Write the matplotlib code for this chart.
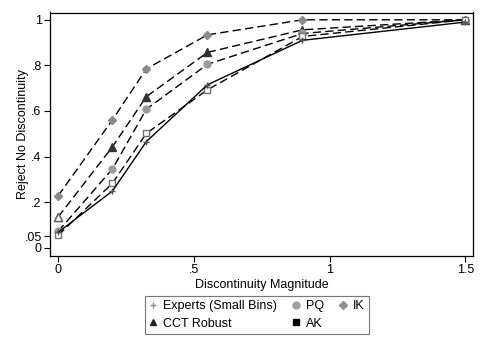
import matplotlib
matplotlib.use("Agg")
import matplotlib.pyplot as plt
from matplotlib.lines import Line2D

plt.rcParams['font.family'] = ['Liberation Sans', 'DejaVu Sans']

# discontinuity magnitudes
mags = [0, 0.2, 0.325, 0.55, 0.9, 1.5]

# rejection rates by method
experts = [0.068, 0.249, 0.466, 0.715, 0.91, 0.99]
cct = [0.135, 0.443, 0.663, 0.857, 0.956, 1.0]
pq = [0.072, 0.346, 0.608, 0.805, 0.94, 1.0]
ak = [0.055, 0.283, 0.502, 0.693, 0.927, 1.0]
ik = [0.228, 0.561, 0.785, 0.934, 1.0, 1.0]

ytick_vals = [0, 0.05, 0.2, 0.4, 0.6, 0.8, 1]
ytick_labels = ['0', '.05', '.2', '.4', '.6', '.8', '1']
xtick_vals = [0, 0.5, 1, 1.5]
xtick_labels = ['0', '.5', '1', '1.5']

fig = plt.figure(figsize=(4.85, 3.52), dpi=100)
ax = fig.add_axes([50/485, 1 - 256/352, 423/485, 243.5/352])

dash = (0, (6, 3))
lw = 1.0
ax.plot(mags, ik, color='black', lw=lw, linestyle=dash, marker='D', ms=4.5,
        mfc='#8a8a8a', mec='#8a8a8a', zorder=3)
ax.plot(mags, cct, color='black', lw=lw, linestyle=dash, marker='^', ms=5.5,
        mfc='#333333', mec='#333333', zorder=3)
# first CCT point is drawn hollow in the original
ax.plot(mags[:1], cct[:1], ls='', marker='^', ms=5.5, mfc='white',
        mec='#666666', zorder=3)
ax.plot(mags, pq, color='black', lw=lw, linestyle=dash, marker='o', ms=5,
        mfc='#9a9a9a', mec='#9a9a9a', zorder=3)
ax.plot(mags, ak, color='black', lw=lw, linestyle=dash, marker='s', ms=5,
        mfc='white', mec='#707070', zorder=3)
ax.plot(mags, experts, color='black', lw=lw, linestyle='-', marker='+', ms=5,
        mec='#505050', zorder=4)

ax.set_xlim(-0.03, 1.528)
ax.set_ylim(-0.036, 1.032)
ax.set_xticks(xtick_vals)
ax.set_xticklabels(xtick_labels)
ax.set_yticks(ytick_vals)
ax.set_yticklabels(ytick_labels)
ax.tick_params(labelsize=9, length=4, width=0.8, colors='black', pad=2)
for s in ax.spines.values():
    s.set_linewidth(0.9)
ax.set_xlabel('Discontinuity Magnitude', fontsize=9, labelpad=2)
ax.set_ylabel('Reject No Discontinuity', fontsize=9, va='center')
ax.yaxis.set_label_coords(-0.064, 0.5)

handles = [
    Line2D([], [], ls='', marker='+', ms=5, mec='#909090'),
    Line2D([], [], ls='', marker='^', ms=5, mfc='#222222', mec='#222222'),
    Line2D([], [], ls='', marker='o', ms=5, mfc='#a0a0a0', mec='#a0a0a0'),
    Line2D([], [], ls='', marker='s', ms=5, mfc='black', mec='black'),
    Line2D([], [], ls='', marker='D', ms=4.5, mfc='#909090', mec='#909090'),
]
labels = ['Experts (Small Bins)', 'CCT Robust', 'PQ', 'AK', 'IK']
leg = fig.legend(handles, labels, ncol=3, loc='center',
                 bbox_to_anchor=(257/485, 1 - 315/352), fontsize=9,
                 frameon=True, fancybox=False, edgecolor='#555555',
                 handlelength=0.6, handletextpad=0.5, columnspacing=1.2,
                 labelspacing=0.45, borderpad=0.35)
leg.get_frame().set_linewidth(0.8)

fig.savefig('out.png', dpi=100, facecolor='white')
